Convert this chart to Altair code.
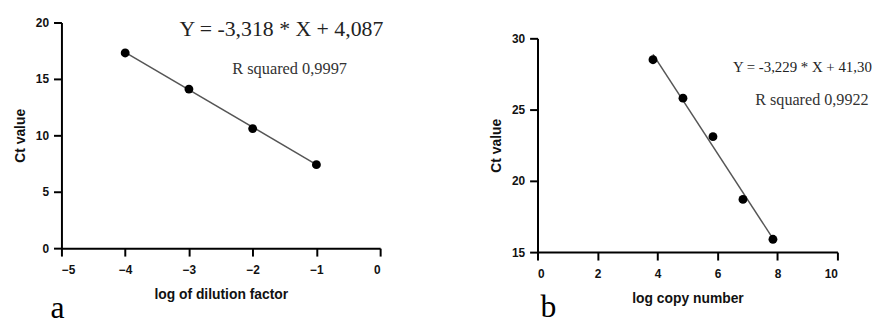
import altair as alt
import pandas as pd

# ---- Panel a : Ct value vs log of dilution factor ----
a_logdil = [-4, -3, -2, -1]
a_ct = [17.3, 14.1, 10.6, 7.4]
a_slope = -3.318
a_intercept = 4.087
a_equation = "Y = -3,318 * X + 4,087"
a_rsq = "R squared 0,9997"
a_xticks = [-5, -4, -3, -2, -1, 0]
a_yticks = [0, 5, 10, 15, 20]

# ---- Panel b : Ct value vs log copy number ----
b_logcopy = [3.85, 4.85, 5.85, 6.85, 7.85]
b_ct = [28.5, 25.8, 23.1, 18.7, 15.9]
b_slope = -3.229
b_intercept = 41.30
b_equation = "Y = -3,229 * X + 41,30"
b_rsq = "R squared 0,9922"
b_xticks = [0, 2, 4, 6, 8, 10]
b_yticks = [15, 20, 25, 30]

SERIF = "Liberation Serif"
SANS = "Liberation Sans"

AXIS_STYLE = dict(
    domain=True, ticks=True, labels=True,
    domainColor="#000000", domainWidth=2, domainOpacity=1,
    tickColor="#000000", tickWidth=2, tickSize=8, tickOpacity=1,
    labelFont=SANS, labelFontSize=12, labelFontWeight="bold", labelColor="#111111", labelOpacity=1,
    titleFont=SANS, titleFontSize=14, titleFontWeight="bold", titleColor="#111111",
    grid=False, format="d",
)


def panel(xs, ys, slope, intercept, xdom, ydom, xticks, yticks, xtitle,
          w, h, eq, rsq, eq_at, rsq_at, eq_size, rsq_size, letter, letter_px):
    xs_ = alt.Scale(domain=xdom, nice=False, zero=False)
    ys_ = alt.Scale(domain=ydom, nice=False, zero=False)
    xax = alt.Axis(values=xticks, title=xtitle, labelPadding=9, titlePadding=12, **AXIS_STYLE)
    yax = alt.Axis(values=yticks, title="Ct value", labelPadding=5, titlePadding=8, **AXIS_STYLE)

    def X():
        return alt.X("x:Q", scale=xs_, axis=xax)

    def Y():
        return alt.Y("y:Q", scale=ys_, axis=yax)

    x0, x1 = min(xs), max(xs)
    fit = pd.DataFrame({"x": [x0, x1], "y": [slope * x0 + intercept, slope * x1 + intercept]})
    line = alt.Chart(fit).mark_line(color="#555555", strokeWidth=1.5).encode(x=X(), y=Y())
    dots = alt.Chart(pd.DataFrame({"x": xs, "y": ys})).mark_circle(
        size=80, color="black", opacity=1
    ).encode(x=X(), y=Y())
    eq_t = alt.Chart(pd.DataFrame({"x": [eq_at[0]], "y": [eq_at[1]], "t": [eq]})).mark_text(
        font=SERIF, fontSize=eq_size, color="#222222"
    ).encode(x=X(), y=Y(), text="t:N")
    rsq_t = alt.Chart(pd.DataFrame({"x": [rsq_at[0]], "y": [rsq_at[1]], "t": [rsq]})).mark_text(
        font=SERIF, fontSize=rsq_size, color="#333333"
    ).encode(x=X(), y=Y(), text="t:N")
    let_t = alt.Chart(pd.DataFrame({"t": [letter]})).mark_text(
        font=SERIF, fontSize=32, color="black", baseline="alphabetic"
    ).encode(x=alt.value(letter_px[0]), y=alt.value(letter_px[1]), text="t:N")
    return alt.layer(line, dots, eq_t, rsq_t, let_t).properties(width=w, height=h)


pa = panel(a_logdil, a_ct, a_slope, a_intercept, [-5, 0], [0, 20], a_xticks, a_yticks,
           "log of dilution factor", 322, 228, a_equation, a_rsq,
           (-1.55, 19.45), (-1.42, 15.9), 22, 16.5, "a", (-4, 228 + 71))

pb = panel(b_logcopy, b_ct, b_slope, b_intercept, [0, 10], [15, 30], b_xticks, b_yticks,
           "log copy number", 303, 216, b_equation, b_rsq,
           (8.83, 27.97), (9.15, 25.67), 15, 16.3, "b", (11, 216 + 66))

spacer = alt.Chart(pd.DataFrame({"v": [0]})).mark_point(opacity=0).encode(
    x=alt.value(0), y=alt.value(0)
).properties(width=10, height=10)

right = alt.vconcat(spacer, pb, spacing=0)

chart = alt.hconcat(pa, right, spacing=106).properties(
    padding={"top": 7, "bottom": 0, "left": 5, "right": 5}
).configure_view(stroke=None).configure_axis(
    domain=True, ticks=True, domainColor="#000000", domainWidth=2, tickColor="#000000",
    tickWidth=2, tickSize=8, labelFontWeight="bold", labelColor="#111111", labelFontSize=12,
    labelFont=SANS,
)

chart.save("out.html", embed_options={"renderer": "svg", "actions": False})
